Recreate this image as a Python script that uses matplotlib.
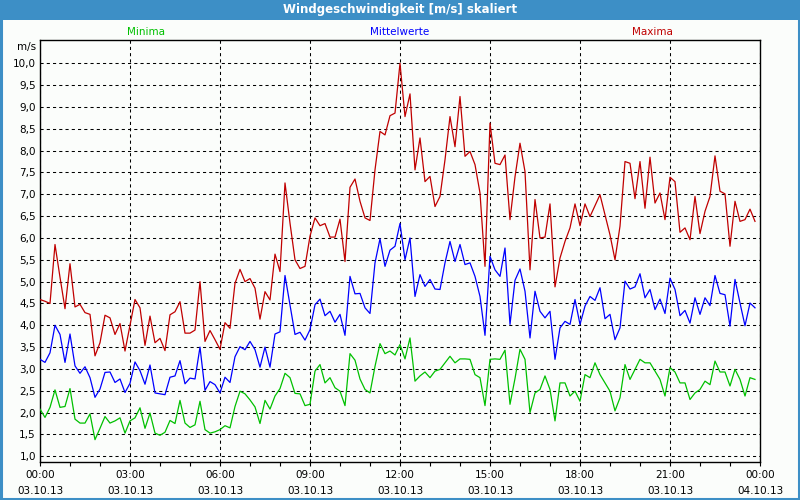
import numpy as np
import pandas as pd
import matplotlib
matplotlib.use("Agg")
import matplotlib.pyplot as plt
import matplotlib.dates as mdates
from matplotlib.patches import Rectangle

title = "Windgeschwindigkeit [m/s] skaliert"
series_names = ["Minima", "Mittelwerte", "Maxima"]
start_time = "2013-10-03 00:00"
end_time = "2013-10-04 00:00"
step = "10min"

maxima = [4.59, 4.55, 4.5, 5.85, 5.1, 4.38, 5.41, 4.42, 4.48, 4.29, 4.25, 3.3, 3.6, 4.23, 4.17, 3.79,
          4.04, 3.41, 4.0, 4.59, 4.4, 3.54, 4.21, 3.6, 3.7,
          3.42, 4.24, 4.31, 4.54, 3.82, 3.82, 3.89, 5.0, 3.63, 3.88, 3.67, 3.45, 4.06, 3.93, 4.96,
          5.28, 5.0, 5.07, 4.85, 4.14, 4.77, 4.58, 5.63, 5.23,
          7.26, 6.34, 5.5, 5.3, 5.35, 6.04, 6.46, 6.28, 6.33, 6.02, 6.02, 6.43, 5.46, 7.16, 7.35,
          6.84, 6.46, 6.4, 7.56, 8.44, 8.36, 8.8, 8.86, 10.0,
          8.78, 9.3, 7.56, 8.29, 7.29, 7.41, 6.72, 6.95, 7.79, 8.78, 8.09, 9.24, 7.87, 7.98, 7.68,
          7.03, 5.35, 8.63, 7.71, 7.68, 7.9, 6.42, 7.4, 8.17,
          7.52, 5.27, 6.88, 6.0, 6.02, 6.78, 4.88, 5.54, 5.92, 6.23, 6.78, 6.28, 6.78, 6.49, 6.74,
          6.99, 6.53, 6.07, 5.5, 6.27, 7.75, 7.71,
          6.9, 7.75, 6.68, 7.85, 6.8, 7.03, 6.42, 7.39, 7.29, 6.13, 6.23, 5.96, 6.95, 6.1, 6.61,
          6.95, 7.88, 7.07, 7.01, 5.81, 6.84, 6.38, 6.42, 6.66, 6.38]

mittel = [3.22, 3.15, 3.37, 4.0, 3.79, 3.15, 3.8, 3.07, 2.9, 3.05, 2.8, 2.35, 2.54, 2.92, 2.93, 2.69,
          2.77, 2.46, 2.67, 3.16, 2.96, 2.65, 3.09, 2.45, 2.43,
          2.41, 2.81, 2.84, 3.19, 2.66, 2.79, 2.77, 3.5, 2.51, 2.71, 2.64, 2.45, 2.81, 2.69, 3.28,
          3.51, 3.44, 3.63, 3.44, 3.04, 3.5, 3.04, 3.8, 3.85,
          5.14, 4.47, 3.79, 3.84, 3.66, 3.9, 4.47, 4.6, 4.22, 4.32, 4.07, 4.25, 3.77, 5.12, 4.72,
          4.73, 4.4, 4.27, 5.43, 5.98, 5.35, 5.72, 5.81, 6.33,
          5.5, 6.0, 4.66, 5.16, 4.89, 5.05, 4.83, 4.82, 5.43, 5.92, 5.46, 5.85, 5.39, 5.43, 5.12,
          4.66, 3.77, 5.58, 5.27, 5.12, 5.77, 4.02, 5.03, 5.29,
          4.78, 3.71, 4.78, 4.32, 4.17, 4.32, 3.22, 3.94, 4.09, 4.02, 4.59, 4.02, 4.44, 4.66, 4.57,
          4.86, 4.15, 4.25, 3.67, 3.94, 5.01, 4.83,
          4.88, 5.18, 4.63, 4.82, 4.36, 4.6, 4.27, 5.08, 4.82, 4.22, 4.34, 4.05, 4.63, 4.25, 4.63,
          4.45, 5.14, 4.73, 4.7, 3.98, 5.05, 4.51, 3.99, 4.51, 4.4]

minima = [2.08, 1.89, 2.12, 2.52, 2.12, 2.14, 2.55, 1.85, 1.76, 1.76, 1.97, 1.38, 1.64, 1.91, 1.76, 1.81,
          1.88, 1.53, 1.81, 1.88, 2.11, 1.64, 1.99, 1.53, 1.48,
          1.55, 1.82, 1.75, 2.28, 1.76, 1.66, 1.72, 2.26, 1.61, 1.53, 1.56, 1.61, 1.7, 1.65, 2.14,
          2.49, 2.43, 2.29, 2.13, 1.75, 2.28, 2.08, 2.38, 2.55,
          2.9, 2.8, 2.44, 2.43, 2.16, 2.19, 2.95, 3.1, 2.68, 2.8, 2.57, 2.49, 2.16, 3.35, 3.2,
          2.77, 2.53, 2.45, 3.06, 3.58, 3.35, 3.41, 3.32, 3.56,
          3.23, 3.71, 2.72, 2.84, 2.93, 2.8, 2.95, 2.99, 3.14, 3.29, 3.14, 3.23, 3.23, 3.22, 2.87,
          2.8, 2.16, 3.22, 3.23, 3.22, 3.43, 2.19, 2.78, 3.45,
          3.22, 2.0, 2.45, 2.53, 2.84, 2.53, 1.81, 2.68, 2.68, 2.38, 2.49, 2.26, 2.87, 2.8, 3.14,
          2.87, 2.68, 2.49, 2.04, 2.34, 3.1, 2.76,
          2.99, 3.22, 3.14, 3.14, 2.95, 2.76, 2.38, 3.03, 2.93, 2.68, 2.68, 2.3, 2.45, 2.53, 2.72,
          2.64, 3.18, 2.93, 2.93, 2.61, 2.99, 2.76, 2.38, 2.8, 2.76]

y_ticks = [1.0, 1.5, 2.0, 2.5, 3.0, 3.5, 4.0, 4.5, 5.0, 5.5, 6.0, 6.5, 7.0, 7.5, 8.0, 8.5, 9.0, 9.5, 10.0]
y_tick_labels = ["1,0", "1,5", "2,0", "2,5", "3,0", "3,5", "4,0", "4,5", "5,0", "5,5",
                 "6,0", "6,5", "7,0", "7,5", "8,0", "8,5", "9,0", "9,5", "10,0"]
x_tick_times = ["2013-10-03 00:00", "2013-10-03 03:00", "2013-10-03 06:00", "2013-10-03 09:00",
                "2013-10-03 12:00", "2013-10-03 15:00", "2013-10-03 18:00", "2013-10-03 21:00",
                "2013-10-04 00:00"]
x_tick_labels = ["00:00\n03.10.13", "03:00\n03.10.13", "06:00\n03.10.13", "09:00\n03.10.13",
                 "12:00\n03.10.13", "15:00\n03.10.13", "18:00\n03.10.13", "21:00\n03.10.13",
                 "00:00\n04.10.13"]
unit_label = "m/s"

C_MIN = "#00c000"
C_MID = "#0000ff"
C_MAX = "#c00000"
C_BAR = "#3d8fc6"
BG = "#fbfdfb"

times = pd.date_range(start_time, periods=len(maxima), freq=step)

W, H = 800, 500
fig = plt.figure(figsize=(8, 5), dpi=100, facecolor=BG)

# title bar and frame
fig.patches.append(Rectangle((0, 1 - 20 / H), 1, 20 / H, transform=fig.transFigure,
                             facecolor=C_BAR, edgecolor="none", zorder=0))
fig.patches.append(Rectangle((1 / W, 1 / H), 1 - 2.5 / W, 1 - 2 / H, transform=fig.transFigure,
                             facecolor="none", edgecolor=C_BAR, linewidth=2.2, zorder=0))
fig.text(0.5, 1 - 10 / H, title, color="white", fontsize=8.5, fontweight="bold",
         ha="center", va="center")

ax = fig.add_axes([40 / W, 1 - 461.5 / H, 720 / W, 421.5 / H])
ax.set_facecolor(BG)

ax.plot(times, maxima, color=C_MAX, lw=0.9, zorder=3)
ax.plot(times, mittel, color=C_MID, lw=0.9, zorder=3)
ax.plot(times, minima, color=C_MIN, lw=0.9, zorder=3)

t0 = pd.Timestamp(start_time)
t1 = pd.Timestamp(end_time)
ax.set_xlim(t0, t1)
ax.set_ylim(0.88, 10.534)

ax.set_yticks(y_ticks)
ax.set_yticklabels(y_tick_labels, fontsize=7.5)
ax.tick_params(axis="y", length=0, pad=3)

xt = pd.to_datetime(x_tick_times)
ax.set_xticks(xt)
ax.set_xticklabels(x_tick_labels, fontsize=7.5, linespacing=1.75)
ax.xaxis.set_minor_locator(mdates.HourLocator())
ax.tick_params(axis="x", which="both", length=3, width=0.8, direction="out", pad=3)

ax.grid(True, which="major", color="black", linestyle=(0, (3, 3)), linewidth=0.75)
for s in ax.spines.values():
    s.set_color("black")
    s.set_linewidth(1.0)

ax.text(-4 / 720, 1 - (47 - 40) / 421.5, unit_label, transform=ax.transAxes,
        fontsize=7.5, ha="right", va="center")

fig.text(146 / W, 1 - 32 / H, series_names[0], color=C_MIN, fontsize=7.5, ha="center", va="center")
fig.text(400 / W, 1 - 32 / H, series_names[1], color=C_MID, fontsize=7.5, ha="center", va="center")
fig.text(652 / W, 1 - 32 / H, series_names[2], color=C_MAX, fontsize=7.5, ha="center", va="center")

fig.savefig("out.png", dpi=100, facecolor=BG)
